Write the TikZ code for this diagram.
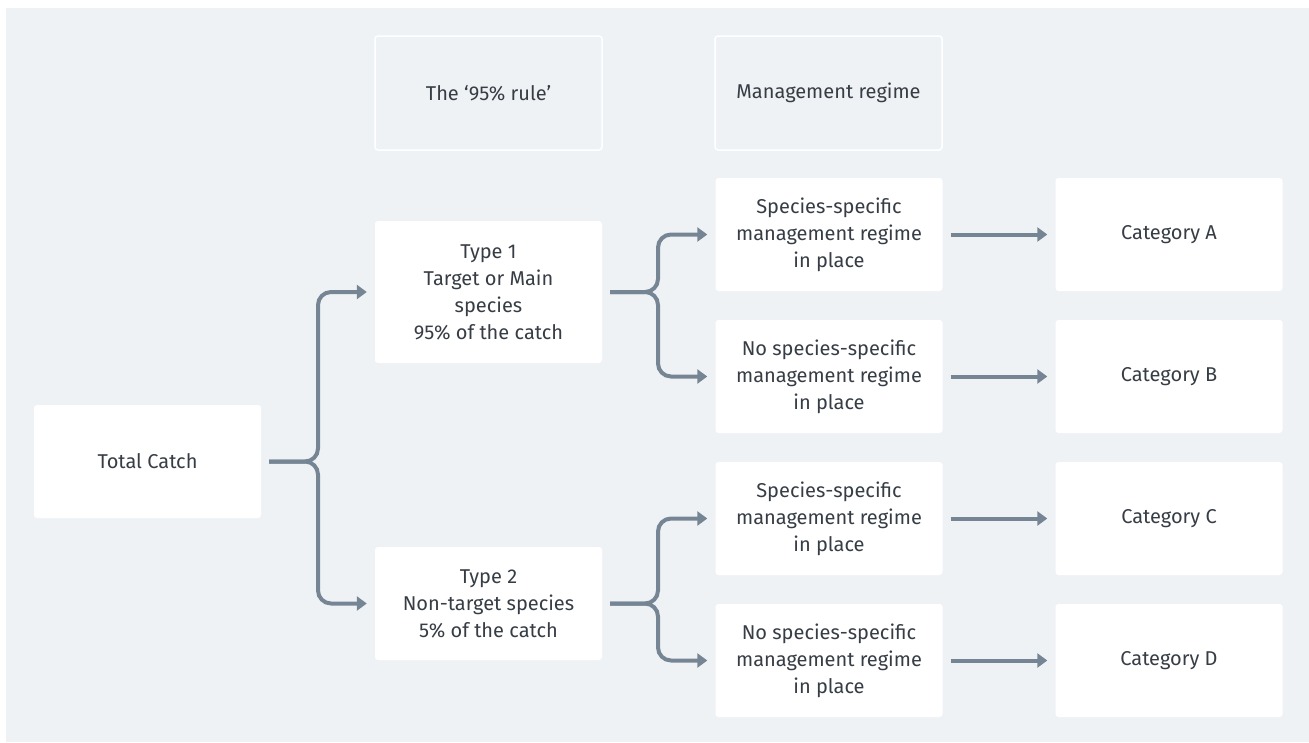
\documentclass[tikz,border=0pt]{standalone}
\usepackage{fontspec}
\setmainfont{Fira Sans}
\usetikzlibrary{arrows.meta}
\definecolor{bggray}{RGB}{239,242,245}
\definecolor{linegray}{RGB}{118,133,148}
\definecolor{textgray}{RGB}{55,61,69}

\begin{document}
\begin{tikzpicture}[x=1pt, y=-1pt,
	box/.style={rectangle, rounded corners=3pt, fill=white, minimum width=227pt, minimum height=113pt, align=center, text=textgray, font=\fontsize{20}{27}\selectfont},
	headbox/.style={box, fill=none, draw=white, line width=1.5pt, minimum height=114pt},
	link/.style={draw=linegray, line width=4pt, rounded corners=13pt, -{Triangle[length=10pt,width=14pt]}, shorten >=8pt, shorten <=8pt}]
\useasboundingbox (0,0) rectangle (1309,742);
\fill[white] (0,0) rectangle (1309,742);
\fill[bggray] (6,8) rectangle (1309,742);

% column headings
\node[headbox] (rule) at (488.5,93) {The `95\% rule'};
\node[headbox] (regime) at (828.5,93) {Management regime};

\node[box] (total) at (147.5,461.5) {Total Catch};
\node[box, minimum height=142pt] (type1) at (488.5,292) {Type 1\\Target or Main\\species\\95\% of the catch};
\node[box] (type2) at (488.5,603.5) {Type 2\\Non-target species\\5\% of the catch};

\node[box] (spec1) at (829,234.5) {Species-specific\\management regime\\in place};
\node[box] (nospec1) at (829,376.5) {No species-specific\\management regime\\in place};
\node[box] (spec2) at (829,518.5) {Species-specific\\management regime\\in place};
\node[box] (nospec2) at (829,660.5) {No species-specific\\management regime\\in place};

\node[box] (catA) at (1169,234.5) {Category A};
\node[box] (catB) at (1169,376.5) {Category B};
\node[box] (catC) at (1169,518.5) {Category C};
\node[box] (catD) at (1169,660.5) {Category D};

% branch points
\coordinate (j1) at (318,461.5);
\coordinate (j2) at (658,292);
\coordinate (j3) at (658,603.5);

\draw[link] (total.east) -- (j1) |- (type1.west);
\draw[link] (total.east) -- (j1) |- (type2.west);

\draw[link] (type1.east) -- (j2) |- (spec1.west);
\draw[link] (type1.east) -- (j2) |- (nospec1.west);
\draw[link] (type2.east) -- (j3) |- (spec2.west);
\draw[link] (type2.east) -- (j3) |- (nospec2.west);

\draw[link] (spec1) -- (catA);
\draw[link] (nospec1) -- (catB);
\draw[link] (spec2) -- (catC);
\draw[link] (nospec2) -- (catD);

\end{tikzpicture}
\end{document}
